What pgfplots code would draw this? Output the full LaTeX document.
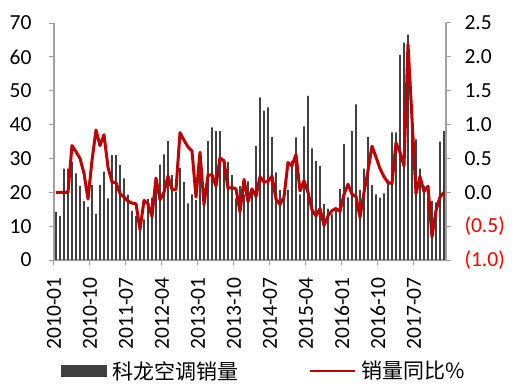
\documentclass[border=0pt]{standalone}
\usepackage{pgfplots}
\pgfplotsset{compat=1.18}
\usepackage{pgfplotstable}
\usepackage{fontspec}
\setmainfont{Carlito}
\newfontfamily\cjk{Noto Sans CJK SC}
\definecolor{barc}{HTML}{404040}
\definecolor{linec}{HTML}{C00000}
\definecolor{axc}{HTML}{A0A0A0}
\pgfplotstableread{
x v r
1 14.2 0
2 13 0
3 27 0
4 27 0
5 29 0.69
6 25.6 0.6
7 21.9 0.5
8 17.4 0.28
9 15.7 -0.1
10 22.1 0.47
11 13.6 0.92
12 22.1 0.69
13 26.1 0.85
14 18.2 0.37
15 31 0.15
16 31 0.14
17 28 -0.02
18 24.1 -0.07
19 19.3 -0.13
20 14.5 -0.16
21 13 -0.17
22 10.5 -0.55
23 12 -0.12
24 18 -0.17
25 18.4 -0.36
26 21 0.21
27 28.2 -0.11
28 31.2 0
29 35.1 0.24
30 25.1 0.04
31 20.2 0.04
32 27.1 0.88
33 23 0.77
34 16.7 0.67
35 19.4 0.61
36 17.7 -0.07
37 32 0.59
38 16.5 -0.18
39 35.1 0.25
40 39.2 0.26
41 38.1 0.09
42 38.1 0.51
43 29.8 0.46
44 29 0.06
45 25.1 0.07
46 18.2 0.05
47 21.8 -0.29
48 19.4 0.19
49 23.2 -0.14
50 20.7 0.05
51 33.7 -0.06
52 48 0.23
53 44.1 0.15
54 45.1 0.16
55 36.3 0.24
56 25.9 -0.1
57 20.7 -0.18
58 18.7 -0.07
59 20.7 0.44
60 29.3 0.39
61 36.2 0.56
62 19.4 0.02
63 39.5 0.17
64 48.5 0
65 33 -0.26
66 29.2 -0.35
67 27.8 -0.24
68 16.5 -0.49
69 15.2 -0.35
70 13.5 -0.27
71 15 -0.24
72 21 -0.28
73 34.2 -0.03
74 18.5 0.12
75 38.1 -0.03
76 46 -0.06
77 20.7 -0.37
78 27 0
79 36.3 0.32
80 22.1 0.68
81 19.4 0.52
82 18.4 0.35
83 19.7 0.23
84 23.5 0.14
85 37.7 0.13
86 37.7 0.73
87 60.6 0.59
88 64.2 0.39
89 66.6 2.18
90 46 1.09
91 35.6 -0.02
92 27 0.23
93 22 0.01
94 18.6 0.09
95 17.5 -0.66
96 17 -0.27
97 35 -0.07
98 38.1 0
}\data

\begin{document}
\begin{tikzpicture}
\path[use as bounding box] (-54pt,-125pt) rectangle (462pt,260pt);
\pgfplotsset{
  common/.style={
    scale only axis, width=392pt, height=237pt,
    at={(0pt,0pt)}, anchor=south west,
    xmin=0.5, xmax=98.5,
    tick align=outside,
    major tick length=5pt,
    tick style={axc, line width=1pt},
    axis line style={axc, line width=1.3pt},
    ticklabel style={font=\fontsize{21.5}{21.5}\selectfont},
  }
}
\begin{axis}[common,
  ymin=0, ymax=70,
  axis x line*=bottom, axis y line*=left,
  xtick={0.5,9.5,18.5,27.5,36.5,45.5,54.5,63.5,72.5,81.5,90.5},
  xticklabels={2010-01,2010-10,2011-07,2012-04,2013-01,2013-10,2014-07,2015-04,2016-01,2016-10,2017-07},
  xticklabel style={yshift=-9pt, rotate=90, anchor=east},
  ytick={0,10,20,30,40,50,60,70},
  yticklabels={0,10,20,30,40,50,60,70},
  yticklabel style={xshift=-14pt},
  ybar, bar width=1.6pt,
]
\addplot[fill=barc, draw=none] table[x=x,y=v]{\data};
\end{axis}
\begin{axis}[common,
  ymin=-1, ymax=2.5,
  axis y line*=right, axis x line=none,
  ytick={-1,-0.5,0,0.5,1,1.5,2,2.5},
  yticklabels={\textcolor{red}{(1.0)},\textcolor{red}{(0.5)},0.0,0.5,1.0,1.5,2.0,2.5},
  yticklabel style={anchor=west, xshift=10pt},
  legend columns=2,
  legend style={draw=none, fill=none, at={(0.536,-0.468)}, anchor=center,
    font=\cjk\fontsize{21}{21}\selectfont,
    /tikz/every even column/.append style={column sep=68pt},
    /tikz/every odd column/.append style={column sep=4pt}},
]
\addlegendimage{legend image code/.code={\fill[barc] (0pt,-5.5pt) rectangle (45pt,5.5pt);}}
\addlegendentry{科龙空调销量}
\addplot[linec, line width=3pt, line join=round,
  legend image code/.code={\draw[linec, line width=2.6pt] (0pt,0pt) -- (45pt,0pt);}]
  table[x=x,y=r]{\data};
\addlegendentry{销量同比\%}
\end{axis}
\end{tikzpicture}
\end{document}
